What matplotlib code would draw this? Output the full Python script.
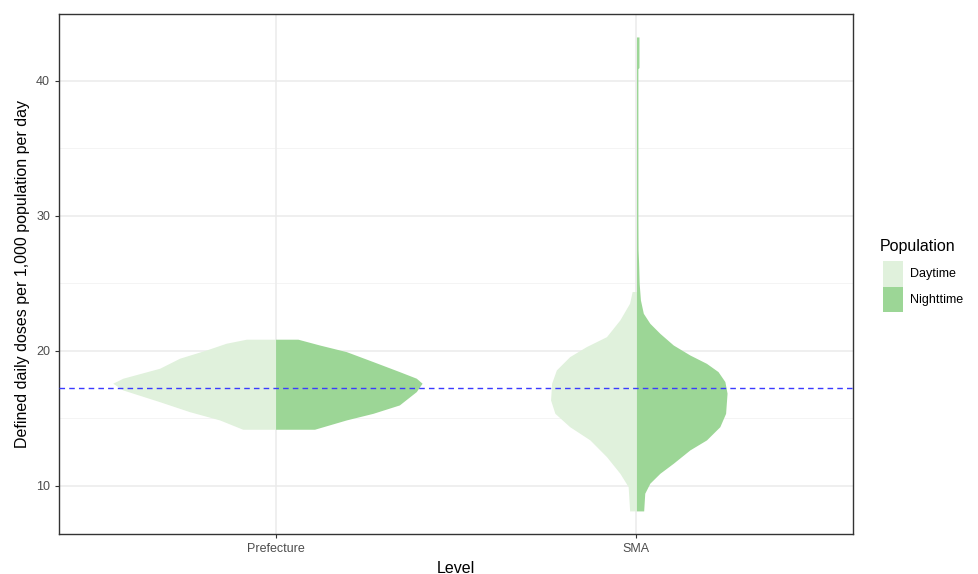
import numpy as np
import matplotlib
matplotlib.use("Agg")
import matplotlib.pyplot as plt
from matplotlib.patches import Rectangle

plt.rcParams['font.family'] = ['Liberation Sans', 'DejaVu Sans']

# Niveles y poblaciones
levels = ["Prefecture", "SMA"]
populations = ["Daytime", "Nighttime"]
colores = {"Daytime": "#e0f1dc", "Nighttime": "#9cd696"}
referencia = 17.28  # linea discontinua

# Contorno de los violines: valor DDD y semi-ancho (densidad escalada)
pref_day_y = [14.20, 14.89, 15.50, 16.24, 17.11, 17.61, 17.98, 18.72, 19.46, 20.07, 20.57, 20.87]
pref_day_w = [0.091, 0.155, 0.238, 0.321, 0.423, 0.451, 0.423, 0.321, 0.266, 0.192, 0.137, 0.081]

pref_night_y = [14.20, 14.89, 15.38, 16.00, 16.99, 17.61, 17.98, 18.47, 19.21, 19.95, 20.44, 20.87]
pref_night_w = [0.108, 0.196, 0.270, 0.343, 0.390, 0.406, 0.390, 0.343, 0.270, 0.196, 0.122, 0.062]

sma_day_y = [8.15, 8.22, 9.95, 10.94, 12.17, 13.41, 14.39, 15.38, 16.37, 17.61, 18.59, 19.58,
             20.32, 21.06, 22.3, 23.54, 24.4]
sma_day_w = [0.019, 0.019, 0.023, 0.046, 0.083, 0.129, 0.185, 0.226, 0.238, 0.235, 0.222, 0.185,
             0.139, 0.083, 0.046, 0.019, 0.012]

sma_night_y = [8.15, 9.46, 10.20, 10.94, 11.68, 12.67, 13.41, 14.39, 15.38, 16.87, 17.73, 18.47,
               19.08, 19.70, 20.44, 21.30, 22.05, 22.79, 23.78, 25.01, 26.5, 27.48, 30.0, 35.0,
               40.9, 41.0, 43.26]
sma_night_w = [0.020, 0.023, 0.037, 0.065, 0.102, 0.148, 0.194, 0.231, 0.247, 0.251, 0.245, 0.226,
               0.194, 0.148, 0.102, 0.065, 0.037, 0.019, 0.011, 0.0075, 0.006, 0.0045, 0.004, 0.004,
               0.004, 0.007, 0.007]

violines = {
    ("Prefecture", "Daytime"): (pref_day_y, pref_day_w),
    ("Prefecture", "Nighttime"): (pref_night_y, pref_night_w),
    ("SMA", "Daytime"): (sma_day_y, sma_day_w),
    ("SMA", "Nighttime"): (sma_night_y, sma_night_w),
}

fig = plt.figure(figsize=(9.79, 5.74), dpi=100)
ax = fig.add_axes([59 / 979, (574 - 534) / 574, 794 / 979, (534 - 14) / 574])

# Rejilla estilo theme_bw
for v in [15, 25, 35]:
    ax.axhline(v, color="#f2f2f2", linewidth=0.6, zorder=0)
for v in [10, 20, 30, 40]:
    ax.axhline(v, color="#ebebeb", linewidth=1.1, zorder=0)
for i in range(len(levels)):
    ax.axvline(i + 1, color="#ebebeb", linewidth=1.1, zorder=0)

# Violines divididos: mitad izquierda de dia, mitad derecha de noche
for i, lvl in enumerate(levels):
    xc = i + 1
    y, w = violines[(lvl, "Daytime")]
    y = np.array(y); w = np.array(w)
    ax.fill_betweenx(y, xc - w, xc, color=colores["Daytime"], linewidth=0, zorder=2)
    y, w = violines[(lvl, "Nighttime")]
    y = np.array(y); w = np.array(w)
    ax.fill_betweenx(y, xc, xc + w, color=colores["Nighttime"], linewidth=0, zorder=2)

ax.axhline(referencia, color="#3b3bff", linestyle=(0, (4, 3)), linewidth=1.0, zorder=3)

ax.set_xlim(0.4, 2.6)
ax.set_ylim(6.44, 44.96)
ax.set_xticks([1, 2])
ax.set_xticklabels(levels)
ax.set_yticks([10, 20, 30, 40])
ax.tick_params(axis="both", colors="#333333", labelcolor="#4d4d4d", labelsize=9, length=3, width=0.8)
for s in ax.spines.values():
    s.set_color("#333333")
    s.set_linewidth(1.0)

ax.set_xlabel("Level", fontsize=11.5, labelpad=4)
ax.set_ylabel("Defined daily doses per 1,000 population per day", fontsize=11.5, labelpad=4)

# Leyenda
fig.text(880 / 979, 1 - 247 / 574, "Population", fontsize=11.5, va="center", ha="left")
for k, pop in enumerate(populations):
    y0 = 261 + k * 25.5
    fig.add_artist(Rectangle((883 / 979, 1 - (y0 + 25.5) / 574), 20 / 979, 25.5 / 574,
                             transform=fig.transFigure, facecolor=colores[pop], edgecolor="none"))
    fig.text(910 / 979, 1 - (y0 + 13) / 574, pop, fontsize=9, va="center", ha="left")

fig.savefig("out.png", dpi=100)
